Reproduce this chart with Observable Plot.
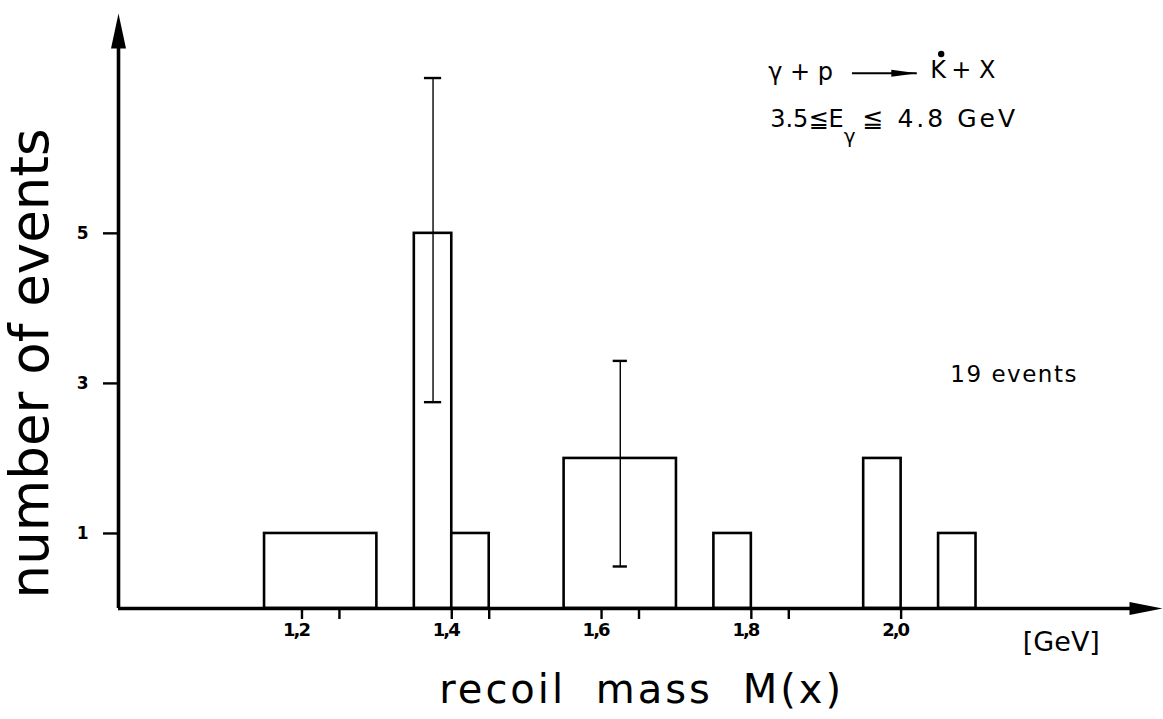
<!DOCTYPE html>
<html><head><meta charset="utf-8">
<script src="https://cdn.jsdelivr.net/npm/d3@7"></script>
<script src="https://cdn.jsdelivr.net/npm/@observablehq/plot@0.6"></script>
<style>body{margin:0;background:#fff}</style>
</head><body><div id="chart"></div>
<script>
// Histogram bins (recoil mass, GeV) and heights (events per 0.05 GeV)
const binLow    = [1.15, 1.35, 1.40, 1.55, 1.75, 1.95, 2.05];
const binHigh   = [1.30, 1.40, 1.45, 1.70, 1.80, 2.00, 2.10];
const binHeight = [1, 5, 1, 2, 1, 2, 1];
// Error bars
const errX    = [1.375, 1.625];
const errLow  = [2.75, 0.56];
const errHigh = [7.07, 3.3];
const errCap  = [0.0115, 0.0095];
// Axis ticks
const xMajorTicks = [1.2, 1.4, 1.6, 1.8, 2.0];
const xMinorTicks = [1.25, 1.45, 1.65, 1.85];
const yTicks = [1, 3, 5];
const xDomain = [0.955, 2.349];
const yDomain = [0, 7.93];
// Text annotations (data coordinates)
const titleX = {text: "recoil mass M(x)", x: 1.6535, y: -1.253};
const titleY = {text: "number of events", x: 0.861, y: 3.267};
const reactionLeft  = {text: "γ + p", x: 1.8225, y: 7.04};
const reactionArrow = {x1: 1.935, x2: 2.0216, y: 7.133};
const reactionK     = {text: "K", x: 2.039, y: 7.067};
const reactionStar  = {x: 2.0535, y: 7.39};
const reactionRight = {text: "+ X", x: 2.067, y: 7.067};
const energyA   = {text: "3.5≦E", x: 1.8252, y: 6.413};
const energySub = {text: "γ", x: 1.9235, y: 6.21};
const energyB   = {text: "≦ 4.8 GeV", x: 1.9485, y: 6.413};
const eventsNote = {text: "19 events", x: 2.0657, y: 3.013};
const unitNote   = {text: "[GeV]", x: 2.1625, y: -0.56};

const bars = binLow.map((lo, i) => ({lo, hi: binHigh[i], h: binHeight[i]}));
const errs = errX.map((x, i) => ({x, lo: errLow[i], hi: errHigh[i], cap: errCap[i]}));

const headUp    = {draw(c){ c.moveTo(0,0); c.lineTo(7.5,35); c.lineTo(-7.5,35); c.closePath(); }};
const headRight = {draw(c){ c.moveTo(0,0); c.lineTo(-33,-6.5); c.lineTo(-33,6.5); c.closePath(); }};
const headSmall = {draw(c){ c.moveTo(0,0); c.lineTo(-26,-3.5); c.lineTo(-26,3.5); c.closePath(); }};

const FONT = "DejaVu Sans";
const txt = (o, opts) => Plot.text([o], {x: "x", y: "y", text: "text", fontFamily: FONT, fill: "black", lineAnchor: "bottom", textAnchor: "start", ...opts});

const chart = Plot.plot({
  width: 1163, height: 719,
  marginLeft: 118, marginRight: 1, marginTop: 13, marginBottom: 111,
  style: {background: "white", color: "black", fontFamily: FONT},
  x: {type: "linear", domain: xDomain, axis: null},
  y: {domain: yDomain, axis: null},
  marks: [
    // histogram bars
    Plot.rectY(bars, {x1: "lo", x2: "hi", y1: 0, y2: "h", fill: "white", stroke: "black", strokeWidth: 2.6}),
    // error bars
    Plot.ruleX(errs, {x: "x", y1: "lo", y2: "hi", stroke: "black", strokeWidth: 1.4}),
    Plot.ruleY(errs, {y: "lo", x1: d => d.x - d.cap, x2: d => d.x + d.cap, stroke: "black", strokeWidth: 2.4}),
    Plot.ruleY(errs, {y: "hi", x1: d => d.x - d.cap, x2: d => d.x + d.cap, stroke: "black", strokeWidth: 2.4}),
    // axes lines with arrowheads
    Plot.ruleX([xDomain[0]], {y1: 0, y2: yDomain[1] - 0.4, stroke: "black", strokeWidth: 3.6}),
    Plot.ruleY([0], {x1: xDomain[0], x2: xDomain[1] - 0.03, stroke: "black", strokeWidth: 3.6}),
    Plot.dot([{x: xDomain[0], y: yDomain[1]}], {x: "x", y: "y", symbol: headUp, fill: "black", stroke: "none"}),
    Plot.dot([{x: xDomain[1], y: 0}], {x: "x", y: "y", symbol: headRight, fill: "black", stroke: "none"}),
    // x ticks
    Plot.axisX(xMajorTicks, {tickSize: 11, tickFormat: () => "", strokeWidth: 2.4}),
    Plot.axisX(xMinorTicks, {tickSize: 11, tickFormat: () => "", strokeWidth: 2.4}),
    Plot.axisX(xMajorTicks, {tickSize: 0, tickPadding: 15, dx: -6, tickFormat: d => d.toFixed(1).replace(".", ","),
      fontSize: 18, fontWeight: "bold", fontFamily: FONT}),
    // y ticks
    Plot.axisY(yTicks, {tickSize: 15, tickPadding: 15, strokeWidth: 2.4, tickFormat: d => String(d),
      fontSize: 17, fontWeight: "bold", fontFamily: FONT}),
    // axis titles
    Plot.text([titleX], {x: "x", y: "y", text: "text", fontFamily: FONT, fontSize: 40, fill: "black",
      textAnchor: "middle", lineAnchor: "bottom"}),
    Plot.text([titleY], {x: "x", y: "y", text: "text", fontFamily: FONT, fontSize: 53, fill: "black",
      textAnchor: "middle", lineAnchor: "bottom", rotate: -90}),
    // reaction annotation
    txt(reactionLeft, {fontSize: 24}),
    Plot.ruleY([reactionArrow], {y: "y", x1: "x1", x2: "x2", stroke: "black", strokeWidth: 2}),
    Plot.dot([reactionArrow], {x: "x2", y: "y", symbol: headSmall, fill: "black", stroke: "none"}),
    txt(reactionK, {fontSize: 24}),
    Plot.dot([reactionStar], {x: "x", y: "y", r: 3.2, fill: "black", stroke: "none"}),
    txt(reactionRight, {fontSize: 24}),
    txt(energyA, {fontSize: 24}),
    txt(energySub, {fontSize: 20}),
    txt(energyB, {fontSize: 25}),
    txt(eventsNote, {fontSize: 23}),
    txt(unitNote, {fontSize: 27})
  ]
});
document.getElementById("chart").append(chart);

// letter spacing tweaks (not exposed as Plot text options)
const spacing = new Map([
  [titleX.text, {ls: "3px", ws: "14px"}],
  [energyB.text, {ls: "3px"}],
  [eventsNote.text, {ls: "1.5px"}],
  ["1,2", {ls: "-2px"}], ["1,4", {ls: "-2px"}], ["1,6", {ls: "-2px"}], ["1,8", {ls: "-2px"}], ["2,0", {ls: "-2px"}]
]);
d3.select(chart).selectAll("text").each(function() {
  const s = spacing.get(this.textContent);
  if (!s) return;
  if (s.ls) this.setAttribute("letter-spacing", s.ls);
  if (s.ws) this.setAttribute("word-spacing", s.ws);
});
</script>
</body></html>
